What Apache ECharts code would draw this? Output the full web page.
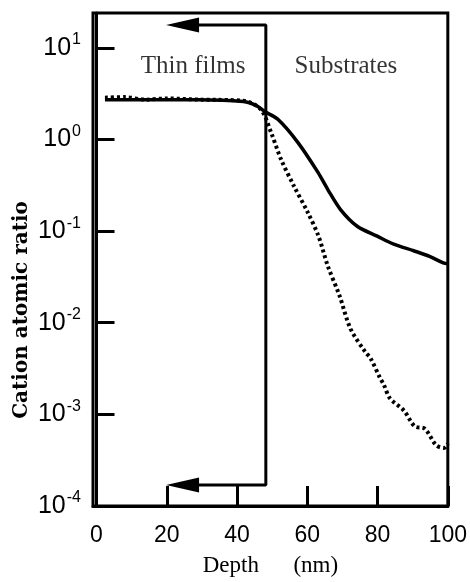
<!DOCTYPE html>
<html>
<head>
<meta charset="utf-8">
<title>Cation atomic ratio vs depth</title>
<script src="https://cdn.jsdelivr.net/npm/echarts@6.0.0/dist/echarts.min.js"></script>
<style>
  html, body { margin: 0; padding: 0; background: #fff; }
  #main { width: 470px; height: 582px; }
</style>
</head>
<body>
<div id="main"></div>
<script type="text/javascript">
// solid curve
var depthSolid = [2.4, 15, 29, 41.8, 45.5, 48, 51.7, 57.3, 63, 65.8, 69.4, 74.2, 79.9, 84.6, 90.3, 94.8, 98.7, 100];
var ratioSolid = [2.72, 2.72, 2.72, 2.59, 2.34, 2.01, 1.65, 0.93, 0.44, 0.286, 0.173, 0.113, 0.088, 0.072, 0.061, 0.053, 0.045, 0.044];

// dotted curve
var depthDotted = [2.4, 8, 14, 20, 30, 41.8, 46.8, 49.7, 52.5, 56.2, 60.1, 63.2, 65.8, 69.2, 72.3, 76.5, 78, 80.7, 81.8, 83.5, 87.5, 90.6, 93.4, 96.7, 98.9, 100];
var ratioDotted = [2.86, 2.9, 2.72, 2.8, 2.72, 2.65, 2.12, 1.19, 0.61, 0.31, 0.161, 0.088, 0.042, 0.0196, 0.0086, 0.0048, 0.0041, 0.0025, 0.0021, 0.0015, 0.0011, 0.00074, 0.0007, 0.00046, 0.00043, 0.00048];

// thin film / substrate boundary with arrows
var boxDepth = [24.5, 48.2, 48.2, 24.5];
var boxRatio = [17.8, 17.8, 0.00017, 0.00017];
var arrowDepth = [24.5, 24.5];
var arrowRatio = [17.8, 0.00017];

var regionNames = ['Thin films', 'Substrates'];
var regionDepth = [27.5, 71];
var regionRatio = [6.2, 6.2];

var xTicks = [0, 20, 40, 60, 80, 100];
var yTicks = [0.0001, 0.001, 0.01, 0.1, 1, 10];

function pairs(xs, ys) {
  var out = [];
  for (var i = 0; i < xs.length; i++) out.push([xs[i], ys[i]]);
  return out;
}

var myChart = echarts.init(document.getElementById('main'));

var option = {
  animation: false,
  backgroundColor: '#fff',
  grid: {
    left: 93, right: 18, top: 13, bottom: 74,
    show: true, borderColor: '#000', borderWidth: 3
  },
  xAxis: {
    type: 'value',
    min: -1, max: 100,
    name: 'Depth      (nm)',
    nameLocation: 'middle',
    nameGap: 48,
    nameTextStyle: { fontFamily: 'Liberation Serif', fontSize: 23, color: '#000' },
    splitLine: { show: false },
    axisLine: { lineStyle: { color: '#000', width: 3 } },
    axisTick: { inside: true, length: 20, lineStyle: { color: '#000', width: 3 }, customValues: xTicks },
    axisLabel: {
      customValues: xTicks,
      margin: 18,
      fontFamily: 'Liberation Sans', fontSize: 23, color: '#000'
    }
  },
  yAxis: {
    type: 'log',
    logBase: 10,
    min: 0.0001, max: 24,
    splitLine: { show: false },
    axisLine: { lineStyle: { color: '#000', width: 3 } },
    axisTick: { inside: true, length: 18, lineStyle: { color: '#000', width: 3 }, customValues: yTicks },
    axisLabel: {
      customValues: yTicks,
      margin: 12,
      formatter: function (v) {
        var e = Math.round(Math.log(v) / Math.LN10);
        return '{b|10}{s|' + e + '}';
      },
      rich: {
        b: { fontFamily: 'Liberation Sans', fontSize: 25, color: '#000' },
        s: { fontFamily: 'Liberation Sans', fontSize: 16, color: '#000', padding: [0, 0, 16, 1] }
      }
    }
  },
  graphic: [{
    type: 'text',
    x: 22, y: 310,
    rotation: Math.PI / 2,
    style: {
      text: 'Cation atomic ratio',
      fontFamily: 'DejaVu Serif', fontWeight: 'bold', fontSize: 20,
      fill: '#000', align: 'center', verticalAlign: 'middle'
    }
  }],
  series: [
    {
      name: 'solid',
      type: 'line',
      data: pairs(depthSolid, ratioSolid),
      smooth: 0.3,
      showSymbol: false,
      lineStyle: { color: '#000', width: 3.5 }
    },
    {
      name: 'dotted',
      type: 'line',
      data: pairs(depthDotted, ratioDotted),
      smooth: 0.3,
      showSymbol: false,
      lineStyle: { color: '#000', width: 4, type: [3, 3] }
    },
    {
      name: 'boundary',
      type: 'line',
      data: pairs(boxDepth, boxRatio),
      showSymbol: false,
      lineStyle: { color: '#000', width: 3 }
    },
    {
      name: 'arrows',
      type: 'scatter',
      data: pairs(arrowDepth, arrowRatio),
      symbol: 'triangle',
      symbolRotate: 90,
      symbolSize: [15, 33],
      itemStyle: { color: '#000', opacity: 1 }
    },
    {
      name: 'regions',
      type: 'scatter',
      data: pairs(regionDepth, regionRatio),
      symbolSize: 0,
      label: {
        show: true,
        position: 'inside',
        formatter: function (p) { return regionNames[p.dataIndex]; },
        fontFamily: 'Liberation Serif', fontSize: 25, color: '#000'
      }
    }
  ]
};
myChart.setOption(option);
</script>
</body>
</html>
